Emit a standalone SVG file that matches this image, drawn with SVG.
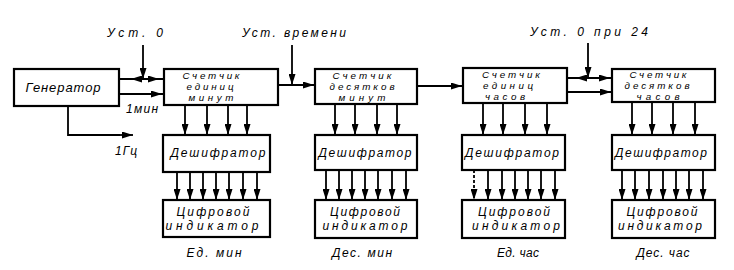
<svg xmlns="http://www.w3.org/2000/svg" width="734" height="270" viewBox="0 0 734 270">
<defs>
<marker id="ah" markerUnits="userSpaceOnUse" markerWidth="11" markerHeight="7" refX="11" refY="3.5" orient="auto">
<path d="M0,0 L11,3.5 L0,7 z" fill="#000"/>
</marker>
<style>
.box{fill:#fff;stroke:#000;stroke-width:2.2}
.ln{fill:none;stroke:#000;stroke-width:1.8}
.ar{fill:none;stroke:#000;stroke-width:1.8;marker-end:url(#ah)}
text{font-family:"Liberation Sans",Arial,sans-serif;font-style:italic;fill:#000;text-anchor:middle}
.c{font-size:9.8px}
.d{font-size:12px}
.l{font-size:12px}
</style>
</defs>
<rect width="734" height="270" fill="#fff"/>

<g id="connectors">
<path class="ln" d="M119,79 H164"/>
<path class="ar" d="M143,79 H131"/>
<path class="ar" d="M143,79 H159"/>
<path class="ln" d="M119,94 H164"/>
<path class="ar" d="M140,94 H162"/>
<path class="ar" d="M143,45 V79"/>
<path class="ln" d="M68,106 V135 H120"/>
<path class="ar" d="M110,135 H133"/>
<path class="ln" d="M278,85 H315"/>
<path class="ar" d="M292,85 H314"/>
<path class="ar" d="M292,45 V85"/>
<path class="ar" d="M417,86 H462"/>
<path class="ln" d="M567,78 H612"/>
<path class="ar" d="M588,78 H576"/>
<path class="ar" d="M588,78 H610"/>
<path class="ln" d="M567,92 H612"/>
<path class="ar" d="M590,92 H611"/>
<path class="ar" d="M588,43 V78"/>
<path class="ar" d="M185,105 V135"/><path class="ar" d="M207,105 V135"/><path class="ar" d="M228,105 V135"/><path class="ar" d="M247,105 V135"/>
<path class="ar" d="M335,104 V135"/><path class="ar" d="M355,104 V135"/><path class="ar" d="M377,104 V135"/><path class="ar" d="M397,104 V135"/>
<path class="ar" d="M483,103 V135"/><path class="ar" d="M503,103 V135"/><path class="ar" d="M525,103 V135"/><path class="ar" d="M547,103 V135"/>
<path class="ar" d="M632,102 V135"/><path class="ar" d="M652,102 V135"/><path class="ar" d="M673,102 V135"/><path class="ar" d="M695,102 V135"/>
<path class="ar" d="M177,172 V200"/><path class="ar" d="M190,172 V200"/><path class="ar" d="M203,172 V200"/><path class="ar" d="M216,172 V200"/><path class="ar" d="M229,172 V200"/><path class="ar" d="M243,172 V200"/><path class="ar" d="M257,172 V200"/>
<path class="ar" d="M326,170 V200"/><path class="ar" d="M339,170 V200"/><path class="ar" d="M352,170 V200"/><path class="ar" d="M365,170 V200"/><path class="ar" d="M378,170 V200"/><path class="ar" d="M392,170 V200"/><path class="ar" d="M406,170 V200"/>
<path class="ar" d="M474,170 V200" stroke-dasharray="3,2"/><path class="ar" d="M488,170 V200"/><path class="ar" d="M502,170 V200"/><path class="ar" d="M515,170 V200"/><path class="ar" d="M528,170 V200"/><path class="ar" d="M541,170 V200"/><path class="ar" d="M555,170 V200"/>
<path class="ar" d="M622,170 V200"/><path class="ar" d="M635,170 V200"/><path class="ar" d="M649,170 V200"/><path class="ar" d="M663,170 V200"/><path class="ar" d="M676,170 V200"/><path class="ar" d="M689,170 V200"/><path class="ar" d="M703,170 V200"/>
</g>

<g id="labels">
<text class="l" x="107" y="37" textLength="56" lengthAdjust="spacing" style="text-anchor:start">Уст.    0</text>
<text class="l" x="294" y="37" textLength="104" lengthAdjust="spacing">Уст. времени</text>
<text class="l" x="589" y="36" textLength="118" lengthAdjust="spacing">Уст.  0  при 24</text>
<text class="l" x="142" y="113" textLength="32" lengthAdjust="spacing">1мин</text>
<text class="l" x="126" y="155" textLength="22" lengthAdjust="spacing">1Гц</text>
<text class="l" x="214" y="257" textLength="55" lengthAdjust="spacing">Ед. мин</text>
<text class="l" x="362" y="257" textLength="60" lengthAdjust="spacing">Дес. мин</text>
<text class="l" x="518" y="257" textLength="42" lengthAdjust="spacing">Ед. час</text>
<text class="l" x="663" y="257" textLength="53" lengthAdjust="spacing">Дес. час</text>
</g>

<g id="generator">
<rect class="box" x="14" y="69" width="105" height="37"/>
<text x="63" y="92" style="font-size:13px" textLength="75" lengthAdjust="spacing">Генератор</text>
</g>

<g id="counter-min-units">
<rect class="box" x="164" y="69" width="114" height="36"/>
<text class="c" x="211" y="78.5" textLength="57" lengthAdjust="spacing">Счетчик</text>
<text class="c" x="210" y="89.5" textLength="47" lengthAdjust="spacing">единиц</text>
<text class="c" x="211" y="100.5" textLength="45" lengthAdjust="spacing">минут</text>
</g>
<g id="counter-min-tens">
<rect class="box" x="315" y="69" width="102" height="35"/>
<text class="c" x="362" y="78.5" textLength="59" lengthAdjust="spacing">Счетчик</text>
<text class="c" x="362" y="89.5" textLength="65" lengthAdjust="spacing">десятков</text>
<text class="c" x="362" y="100.5" textLength="47" lengthAdjust="spacing">минут</text>
</g>
<g id="counter-hour-units">
<rect class="box" x="463" y="68" width="104" height="35"/>
<text class="c" x="511" y="77.5" textLength="58" lengthAdjust="spacing">Счетчик</text>
<text class="c" x="508" y="88.5" textLength="50" lengthAdjust="spacing">единиц</text>
<text class="c" x="505" y="99.5" textLength="40" lengthAdjust="spacing">часов</text>
</g>
<g id="counter-hour-tens">
<rect class="box" x="612" y="69" width="103" height="33"/>
<text class="c" x="658" y="77.5" textLength="57" lengthAdjust="spacing">Счетчик</text>
<text class="c" x="657" y="88.5" textLength="65" lengthAdjust="spacing">десятков</text>
<text class="c" x="658" y="99.5" textLength="43" lengthAdjust="spacing">часов</text>
</g>

<g id="decoder-1">
<rect class="box" x="163" y="135" width="107" height="37"/>
<text class="d" x="218" y="157" textLength="95" lengthAdjust="spacing">Дешифратор</text>
</g>
<g id="decoder-2">
<rect class="box" x="315" y="135" width="102" height="35"/>
<text class="d" x="365" y="157" textLength="93" lengthAdjust="spacing">Дешифратор</text>
</g>
<g id="decoder-3">
<rect class="box" x="462" y="135" width="103" height="35"/>
<text class="d" x="512" y="157" textLength="94" lengthAdjust="spacing">Дешифратор</text>
</g>
<g id="decoder-4">
<rect class="box" x="612" y="135" width="103" height="35"/>
<text class="d" x="661" y="157" textLength="92" lengthAdjust="spacing">Дешифратор</text>
</g>

<g id="indicator-1">
<rect class="box" x="163" y="200" width="107" height="37"/>
<text class="d" x="213" y="216" textLength="73" lengthAdjust="spacing">Цифровой</text>
<text class="d" x="212" y="229.5" textLength="93" lengthAdjust="spacing">индикатор</text>
</g>
<g id="indicator-2">
<rect class="box" x="315" y="200" width="102" height="38"/>
<text class="d" x="365" y="216" textLength="70" lengthAdjust="spacing">Цифровой</text>
<text class="d" x="365" y="229.5" textLength="85" lengthAdjust="spacing">индикатор</text>
</g>
<g id="indicator-3">
<rect class="box" x="462" y="200" width="103" height="38"/>
<text class="d" x="514" y="216" textLength="72" lengthAdjust="spacing">Цифровой</text>
<text class="d" x="516" y="229.5" textLength="88" lengthAdjust="spacing">индикатор</text>
</g>
<g id="indicator-4">
<rect class="box" x="612" y="200" width="103" height="38"/>
<text class="d" x="662" y="216" textLength="71" lengthAdjust="spacing">Цифровой</text>
<text class="d" x="660" y="229.5" textLength="84" lengthAdjust="spacing">индикатор</text>
</g>
</svg>
